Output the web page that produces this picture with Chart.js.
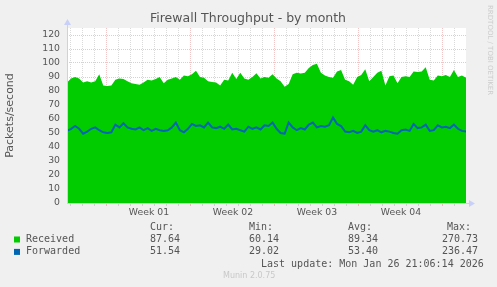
<!DOCTYPE html>
<html>
<head>
<meta charset="utf-8">
<script src="https://cdn.jsdelivr.net/npm/chart.js@4/dist/chart.umd.min.js"></script>
<style>
  html, body { margin: 0; padding: 0; background: #f0f0f0; }
  canvas { display: block; }
</style>
</head>
<body>
<canvas id="myChart" width="497" height="287"></canvas>
<script>
// days relative to the start of week 01
const X_MIN = -3.333;
const X_MAX = 29.917;

// packets/second, sampled roughly every 8 hours
const received = [
  86, 89, 90, 89, 86, 87, 86, 87, 92, 84,
  83.5, 84, 88, 89, 88.5, 87, 85.5, 85, 84.5, 86,
  88, 87.5, 88.5, 90, 85.5, 88, 89, 90, 88, 91,
  90.5, 92, 94.5, 90, 89.5, 87, 86.5, 86, 84, 88,
  87.5, 93, 88.5, 93, 89, 88, 90, 92.6, 89, 90,
  89.5, 92, 89, 87, 83, 85, 92, 93, 92.5, 93,
  96.5, 98.5, 99.5, 93, 91, 90, 89.5, 94, 95, 88,
  87, 84.5, 90, 91.5, 95.5, 87, 90, 93, 94.5, 84,
  90.5, 91, 85.5, 90, 90.5, 90, 94, 93.5, 94, 97,
  88, 87.5, 91, 90.5, 91.5, 90, 95, 90, 91, 89.5,
];
const forwarded = [
  51.5, 53, 55, 53, 49.5, 51, 53, 54, 52, 50.5,
  50, 50.5, 56, 54, 57, 54, 53, 52.5, 54, 52,
  53.5, 51.5, 53, 52, 51.5, 52, 54, 57.5, 52, 50.5,
  53, 56.5, 55, 55.5, 54, 57.5, 54, 53.5, 54.5, 53,
  56, 52.5, 53, 52, 51, 54.5, 53, 54, 52.5, 55.5,
  55, 57.5, 53, 50, 49.5, 57.5, 54, 52, 53.5, 52.5,
  56, 57.5, 54, 55, 54.5, 55.5, 61, 56.5, 55, 51,
  50.5, 51.5, 50, 51, 55.5, 52, 51, 52, 50.5, 51.5,
  51, 50, 49.5, 52, 52.5, 51.5, 56.5, 53.5, 54, 56,
  51.5, 52, 55.5, 54, 54.5, 53.5, 56, 53, 51.5, 51,
];

const weekLabels = ["Week 01", "Week 02", "Week 03", "Week 04"];
const weekLabelDays = [3.5, 10.5, 17.5, 24.5];

const legendRows = [
  { label: "Received", color: "#00cc00", values: ["87.64", "60.14", "89.34", "270.73"] },
  { label: "Forwarded", color: "#0066b3", values: ["51.54", "29.02", "53.40", "236.47"] },
];
const legendHeaders = ["Cur:", "Min:", "Avg:", "Max:"];

const times = received.map((_, i) => X_MIN + (i * (X_MAX - X_MIN)) / (received.length - 1));
const toPoints = (arr) => arr.map((v, i) => ({ x: times[i], y: v }));

const GRID_MINOR = "rgba(150,150,150,0.35)";
const GRID_MAJOR = "rgba(220,110,110,0.4)";
const AXIS_COLOR = "#c8d0fa";
const TEXT = "#555555";

const munin = {
  id: "munin",
  beforeDraw(chart) {
    const { ctx, chartArea: a } = chart;
    ctx.save();
    ctx.fillStyle = "#f0f0f0";
    ctx.fillRect(0, 0, chart.width, chart.height);
    ctx.fillStyle = "#ffffff";
    ctx.fillRect(a.left, a.top, a.right - a.left, a.bottom - a.top);
    ctx.restore();
  },
  afterDraw(chart) {
    const { ctx, chartArea: a } = chart;
    ctx.save();

    // axes with arrows
    ctx.strokeStyle = AXIS_COLOR;
    ctx.fillStyle = AXIS_COLOR;
    ctx.lineWidth = 1;
    ctx.beginPath();
    ctx.moveTo(a.left + 0.5, a.bottom);
    ctx.lineTo(a.left + 0.5, a.top - 4);
    ctx.moveTo(a.left, a.bottom + 0.5);
    ctx.lineTo(a.right + 4, a.bottom + 0.5);
    ctx.stroke();
    ctx.beginPath();
    ctx.moveTo(a.left - 3, a.top - 3);
    ctx.lineTo(a.left + 4, a.top - 3);
    ctx.lineTo(a.left + 0.5, a.top - 9);
    ctx.fill();
    ctx.beginPath();
    ctx.moveTo(a.right + 3, a.bottom - 3);
    ctx.lineTo(a.right + 3, a.bottom + 4);
    ctx.lineTo(a.right + 9, a.bottom + 0.5);
    ctx.fill();

    // title
    ctx.fillStyle = TEXT;
    ctx.font = '12.5px "DejaVu Sans"';
    ctx.textAlign = "center";
    ctx.textBaseline = "middle";
    ctx.fillText("Firewall Throughput - by month", 248, 19);

    // legend table
    ctx.font = '10px "DejaVu Sans Mono"';
    ctx.textAlign = "left";
    const headX = [150, 249, 348, 447];
    const valX = [150, 249, 348, 442];
    legendHeaders.forEach((h, i) => ctx.fillText(h, headX[i], 227.5));
    legendRows.forEach((row, r) => {
      const y = 239.5 + r * 12.4;
      ctx.fillStyle = row.color;
      ctx.fillRect(14, y - 3, 6, 6);
      ctx.fillStyle = TEXT;
      ctx.fillText(row.label, 26, y);
      row.values.forEach((v, i) => ctx.fillText(v, valX[i], y));
    });
    ctx.fillText("Last update: Mon Jan 26 21:06:14 2026", 261, 264);

    ctx.fillStyle = "#c8c8c8";
    ctx.font = '8px "DejaVu Sans"';
    ctx.fillText("Munin 2.0.75", 223, 276);

    // rrdtool credit
    ctx.translate(490, 5);
    ctx.rotate(Math.PI / 2);
    ctx.font = '7px "DejaVu Sans"';
    ctx.fillStyle = "#cccccc";
    ctx.fillText("RRDTOOL / TOBI OETIKER", 0, 0);
    ctx.restore();
  },
};

const xTicks = [];
for (let d = -3; d <= 29; d++) xTicks.push(d);
weekLabelDays.forEach((d) => xTicks.push(d));

const yTicks = [];
for (let v = 0; v <= 125; v += 5) yTicks.push(v);

const xGridColor = (ctx) => {
  const v = ctx.tick && ctx.tick.value;
  if (v === undefined || !Number.isInteger(v)) return "transparent";
  return v % 7 === 0 ? GRID_MAJOR : GRID_MINOR;
};
const yGridColor = (ctx) => {
  const v = ctx.tick && ctx.tick.value;
  if (!v) return "transparent";
  return v % 10 === 0 ? GRID_MAJOR : GRID_MINOR;
};

new Chart("myChart", {
  type: "line",
  data: {
    datasets: [
      {
        label: "Received",
        data: toPoints(received),
        backgroundColor: "#00cc00",
        borderWidth: 0,
        fill: "origin",
        pointRadius: 0,
        tension: 0,
        order: 1,
      },
      {
        label: "Forwarded",
        data: toPoints(forwarded),
        borderColor: "#0066b3",
        borderWidth: 2,
        fill: false,
        pointRadius: 0,
        tension: 0,
        order: 0,
      },
    ],
  },
  options: {
    responsive: false,
    animation: false,
    events: [],
    layout: { padding: { left: 0, top: 28, right: 31, bottom: 0 } },
    plugins: {
      legend: { display: false },
      tooltip: { enabled: false },
    },
    scales: {
      x: {
        type: "linear",
        min: X_MIN,
        max: X_MAX,
        z: 1,
        afterBuildTicks: (s) => {
          s.ticks = xTicks.map((v) => ({ value: v }));
        },
        afterFit: (s) => {
          s.height = 84;
        },
        border: { display: false, dash: [1, 1] },
        grid: {
          color: xGridColor,
          tickColor: xGridColor,
          tickLength: 3,
          lineWidth: 1,
        },
        ticks: {
          autoSkip: false,
          maxRotation: 0,
          padding: 1,
          color: TEXT,
          font: { family: "DejaVu Sans", size: 9.3 },
          callback: (v) => {
            const k = weekLabelDays.indexOf(v);
            return k >= 0 ? weekLabels[k] : "";
          },
        },
      },
      y: {
        min: 0,
        max: 125,
        z: 1,
        afterBuildTicks: (s) => {
          s.ticks = yTicks.map((v) => ({ value: v }));
        },
        afterFit: (s) => {
          s.width = 67;
        },
        border: { display: false, dash: [1, 1] },
        grid: { color: yGridColor, drawTicks: false, lineWidth: 1 },
        ticks: {
          padding: 7,
          color: TEXT,
          font: { family: "DejaVu Sans", size: 9.3 },
          callback: (v) => (v % 10 === 0 ? String(v) : ""),
        },
        title: {
          display: true,
          text: "Packets/second",
          color: TEXT,
          font: { family: "DejaVu Sans", size: 11 },
          padding: { top: 4, bottom: 4 },
        },
      },
    },
  },
  plugins: [munin],
});
</script>
</body>
</html>
